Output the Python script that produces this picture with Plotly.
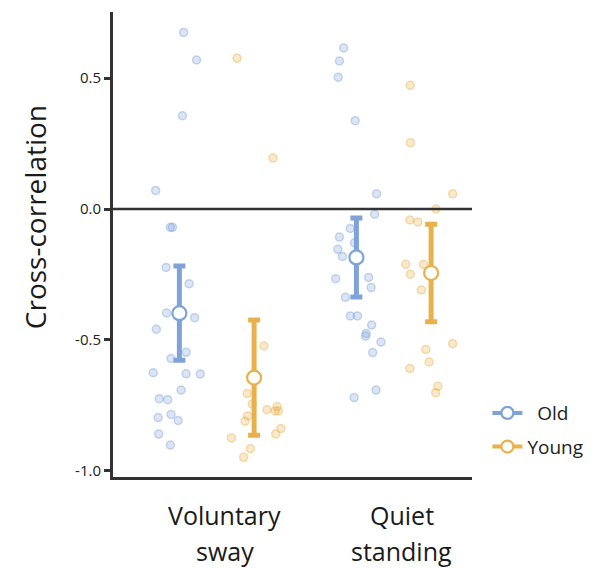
import numpy as np
import plotly.graph_objects as go

# ---------------- data ----------------
conditions = ["Voluntary sway", "Quiet standing"]
cond_lines = [["Voluntary", "sway"], ["Quiet", "standing"]]
groups = ["Old", "Young"]

# individual values and horizontal jitter (data units)
old_vs = [0.674, 0.569, 0.356, 0.071, -0.070, -0.070, -0.223, -0.285, -0.397, -0.415,
          -0.459, -0.547, -0.571, -0.625, -0.629, -0.630, -0.691, -0.724, -0.728,
          -0.784, -0.796, -0.807, -0.859, -0.901]
old_vs_jit = [0.024, 0.097, 0.017, -0.134, -0.051, -0.039, -0.075, 0.055, -0.072, 0.086,
              -0.130, 0.038, -0.047, -0.148, 0.038, 0.118, 0.010, -0.114, -0.066,
              -0.047, -0.120, -0.007, -0.117, -0.051]

young_vs = [0.575, 0.195, -0.523, -0.704, -0.745, -0.766, -0.754, -0.771, -0.771,
            -0.790, -0.810, -0.838, -0.859, -0.874, -0.915, -0.948]
young_vs_jit = [-0.096, 0.107, 0.056, -0.039, -0.010, 0.073, 0.130, 0.120, 0.137,
                -0.036, -0.051, 0.152, 0.122, -0.128, -0.021, -0.059]

old_qs = [0.615, 0.565, 0.503, 0.337, 0.058, -0.020, -0.074, -0.107, -0.129, -0.154,
          -0.181, -0.266, -0.261, -0.300, -0.337, -0.408, -0.408, -0.443, -0.475,
          -0.485, -0.508, -0.548, -0.691, -0.720]
old_qs_jit = [-0.072, -0.096, -0.103, -0.007, 0.114, 0.103, -0.035, -0.096, -0.011, -0.105,
              -0.079, -0.117, 0.069, 0.083, -0.062, -0.034, 0.006, 0.086, 0.055,
              0.052, 0.139, 0.092, 0.111, -0.013]

young_qs = [0.472, 0.253, 0.058, 0.0, -0.042, -0.050, -0.211, -0.211, -0.249, -0.309,
            -0.536, -0.514, -0.584, -0.609, -0.677, -0.701]
young_qs_jit = [-0.118, -0.117, 0.122, 0.028, -0.120, -0.075, -0.143, -0.043, -0.117,
                -0.055, -0.030, 0.122, -0.011, -0.120, 0.038, 0.026]

# confidence interval half-widths
old_ci = [0.180, 0.151]
young_ci = [0.220, 0.186]

yticks = [-1.0, -0.5, 0.0, 0.5]
ytick_labels = ["-1.0", "-0.5", "0.0", "0.5"]
y_title = "Cross-correlation"

# ---------------- styling ----------------
OLD = "#7fa3d9"
YOUNG = "#e9b14c"
AX = "#333333"
FONT = "Open Sans"
cat_pos = [1, 2]
offset = 0.211

def rgba(hex_, a):
    h = hex_.lstrip("#")
    r, g, b = int(h[0:2], 16), int(h[2:4], 16), int(h[4:6], 16)
    return f"rgba({r},{g},{b},{a})"

fig = go.Figure()

series = {
    "Old": ([old_vs, old_qs], [old_vs_jit, old_qs_jit], old_ci, OLD, -offset),
    "Young": ([young_vs, young_qs], [young_vs_jit, young_qs_jit], young_ci, YOUNG, offset),
}

for name, (vals, jits, ci, col, off) in series.items():
    for ci_idx, (v, j) in enumerate(zip(vals, jits)):
        xs = [cat_pos[ci_idx] + off + jj for jj in j]
        fig.add_trace(go.Scatter(
            x=xs, y=v, mode="markers", showlegend=False, hoverinfo="skip",
            marker=dict(size=8, color=rgba(col, 0.28),
                        line=dict(color=rgba(col, 0.42), width=1.5)),
        ))

for name, (vals, jits, ci, col, off) in series.items():
    means = [float(np.mean(v)) for v in vals]
    fig.add_trace(go.Scatter(
        x=[p + off for p in cat_pos], y=means, mode="markers", showlegend=False,
        marker=dict(size=14, color="white", line=dict(color=col, width=2.2)),
        error_y=dict(type="data", array=ci, visible=True, color=col, thickness=5, width=6),
    ))

# legend-only traces
for i, (name, (vals, jits, ci, col, off)) in enumerate(series.items()):
    fig.add_trace(go.Scatter(
        x=[None], y=[None], mode="lines+markers", name=("  " + name) if name == "Old" else name,
        legendgroup=name,
        line=dict(color=col, width=4),
        marker=dict(size=12, color="white", line=dict(color=col, width=2.2)),
    ))

fig.add_shape(type="line", xref="paper", x0=0, x1=1, yref="y", y0=0, y1=0,
              line=dict(color=AX, width=2.5))

for p, lines in zip(cat_pos, cond_lines):
    fig.add_annotation(x=p + 0.045, y=-0.082, xref="x", yref="paper", text=lines[0],
                       showarrow=False, font=dict(family=FONT, size=25, color="#1a1a1a"),
                       yanchor="middle")
    fig.add_annotation(x=p + 0.045, y=-0.160, xref="x", yref="paper", text=lines[1],
                       showarrow=False, font=dict(family=FONT, size=25, color="#1a1a1a"),
                       yanchor="middle")

fig.add_annotation(x=-0.217, y=0.559, xref="paper", yref="paper", text=y_title,
                   textangle=-90, showarrow=False, xanchor="center", yanchor="middle",
                   font=dict(family=FONT, size=28, color="#1a1a1a"))

fig.update_layout(
    width=599, height=568,
    margin=dict(l=113, r=126, t=12, b=91),
    plot_bgcolor="white", paper_bgcolor="white",
    font=dict(family=FONT, color="#222"),
    legend=dict(x=1.04, y=0.101, xanchor="left", yanchor="middle",
                font=dict(family=FONT, size=19, color="#222"),
                tracegroupgap=6, bgcolor="rgba(0,0,0,0)"),
    xaxis=dict(range=[0.414, 2.442], showgrid=False, zeroline=False,
               showline=True, linecolor=AX, linewidth=3, showticklabels=False, ticks=""),
    yaxis=dict(range=[-1.023, 0.752], showgrid=False, zeroline=False,
               showline=True, linecolor=AX, linewidth=3,
               tickvals=yticks, ticktext=ytick_labels, ticks="outside",
               ticklen=6, tickwidth=3, tickcolor=AX,
               tickfont=dict(family=FONT, size=15, color="#222")),
)

fig.write_html("out.html")
